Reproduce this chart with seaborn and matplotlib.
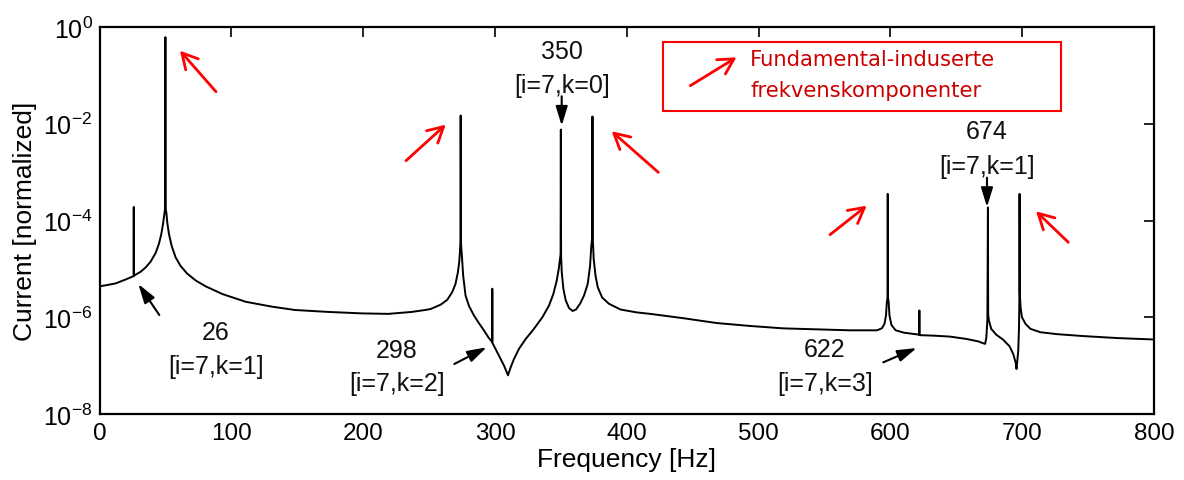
import matplotlib
matplotlib.use("Agg")
import matplotlib.pyplot as plt
import matplotlib.ticker as mticker
from matplotlib.patches import Rectangle
import numpy as np
import pandas as pd
import seaborn as sns

# ---------------- data ----------------
# frequency [Hz] and decade exponent of the normalized current (value = 10**exp)
freq_hz = [0, 4.7, 12.3, 19.8, 25.9, 26.0, 26.1, 31.2, 35.0, 38.8, 42.6, 45.1, 46.9,
           48.2, 49.2, 49.7, 50.0, 50.3, 50.7, 51.4, 52.7, 54.7, 57.7, 61.5, 66.6,
           73.0, 80.5, 93.2, 110.9, 130.6, 148.3, 173.6, 198.9, 219.1, 236.9, 247.0,
           251.2, 258.8, 263.8, 267.6, 270.1, 271.9, 272.9, 273.5, 273.8, 274.0,
           274.3, 274.9, 275.9, 277.7, 280.2, 284.0, 287.8, 291.6, 295.4, 297.9,
           298.0, 298.1, 299.8, 303.1, 306.9, 309.9, 312.0, 314.5, 318.3, 323.3,
           329.6, 336.0, 341.0, 344.3, 346.9, 348.4, 349.4, 349.8, 350.0, 350.2,
           350.7, 351.9, 353.7, 356.2, 359.0, 361.5, 364.6, 367.6, 370.4, 372.2,
           373.1, 373.7, 374.0, 374.3, 374.9, 376.3, 378.0, 381.3, 386.4, 395.2,
           407.6, 417.7, 443.0, 468.3, 493.5, 518.8, 544.2, 569.4, 589.7, 593.5,
           595.5, 596.7, 597.3, 597.8, 598.0, 598.2, 598.7, 599.3, 600.8, 604.0,
           610.4, 621.9, 622.0, 622.1, 632.6, 645.3, 658.0, 666.8, 670.6, 671.9,
           672.8, 673.6, 674.0, 674.2, 674.8, 676.5, 680.3, 685.4, 690.4, 693.2,
           695.0, 695.7, 697.0, 697.6, 697.85, 698.0, 698.2, 698.8, 699.8, 702.6,
           706.3, 713.9, 726.6, 746.8, 772.1, 789.8, 800.0]
current_exp = [-5.36, -5.34, -5.30, -5.22, -5.15, -3.72, -5.14, -5.06, -4.97, -4.85,
               -4.67, -4.48, -4.28, -4.07, -3.86, -3.76, -0.21, -3.78, -3.83, -4.04,
               -4.28, -4.52, -4.76, -4.94, -5.10,
               -5.24, -5.36, -5.52, -5.68, -5.78, -5.85, -5.89, -5.92, -5.93, -5.89,
               -5.85,
               -5.83, -5.74, -5.64, -5.48, -5.31, -5.07, -4.86, -4.62, -4.45, -1.83,
               -4.50, -4.72, -5.14, -5.55, -5.76, -5.96, -6.12, -6.27, -6.43, -6.51,
               -5.41, -6.53, -6.62, -6.79, -7.00, -7.20, -7.03, -6.86, -6.65, -6.45,
               -6.24, -6.00, -5.76, -5.52, -5.24, -5.00, -4.79, -4.70, -2.12, -4.75,
               -5.07, -5.41, -5.65, -5.81, -5.87, -5.84, -5.72, -5.55, -5.31, -4.93,
               -4.52, -4.38, -1.85, -4.40, -4.79, -5.14, -5.38, -5.59, -5.72, -5.84,
               -5.90, -5.93, -6.02, -6.12, -6.18, -6.23, -6.25, -6.27, -6.27, -6.23,
               -6.14, -5.96, -5.69, -5.60, -3.45, -5.60, -5.69, -5.96, -6.16, -6.27,
               -6.32, -6.36, -5.86, -6.37, -6.38, -6.40, -6.45, -6.50, -6.54, -6.55,
               -6.42, -6.05, -3.73, -5.95, -6.07, -6.24, -6.36, -6.46, -6.60, -6.76,
               -6.93, -7.07, -6.70, -6.20, -5.60, -3.45, -5.50, -5.80, -6.00, -6.14,
               -6.24, -6.31, -6.35, -6.39, -6.43, -6.45, -6.46]

x_ticks = [0, 100, 200, 300, 400, 500, 600, 700, 800]
y_ticks = [1e-8, 1e-6, 1e-4, 1e-2, 1e0]

labels_black = [("26", "[i=7,k=1]"), ("298", "[i=7,k=2]"), ("350", "[i=7,k=0]"),
                ("622", "[i=7,k=3]"), ("674", "[i=7,k=1]")]
legend_lines = ["Fundamental-induserte", "frekvenskomponenter"]

# ---------------- style ----------------
sns.set_style("white")
plt.rcParams["font.family"] = ["Liberation Sans", "DejaVu Sans"]
plt.rcParams["mathtext.fontset"] = "custom"
plt.rcParams["mathtext.rm"] = "Liberation Sans"
plt.rcParams["mathtext.it"] = "Liberation Sans:italic"
for k in ["text.color", "axes.labelcolor", "xtick.color", "ytick.color"]:
    plt.rcParams[k] = "black"

W, H = 1184, 481
fig = plt.figure(figsize=(W / 100, H / 100), dpi=100)
L, R, T, B = 99.5, 1154, 28, 415
ax = fig.add_axes([L / W, 1 - B / H, (R - L) / W, (B - T) / H])

df = pd.DataFrame({"Frequency": freq_hz,
                   "Current": np.power(10.0, np.array(current_exp))})
sns.lineplot(data=df, x="Frequency", y="Current", ax=ax, color="black",
             linewidth=1.4, estimator=None, sort=False)

ax.set_yscale("log")
ax.set_xlim(0, 800)
ax.set_ylim(1e-8, 1)
ax.set_xticks(x_ticks)
ax.set_yticks(y_ticks)
ax.yaxis.set_minor_locator(mticker.NullLocator())
ax.xaxis.set_minor_locator(mticker.NullLocator())
ax.tick_params(axis="both", direction="in", length=7, width=1.2,
               top=True, right=True, color="black", labelcolor="black")
ax.tick_params(axis="x", labelsize=17.5, pad=6)
ax.tick_params(axis="y", labelsize=18, pad=5)
for s in ax.spines.values():
    s.set_linewidth(1.6)
    s.set_color("black")
ax.set_xlabel("Frequency [Hz]", fontsize=19, labelpad=2, color="black")
ax.set_ylabel("Current [normalized]", fontsize=19, labelpad=4, color="black")


def P(x, y):
    return ((x - L) / (R - L), 1 - (y - T) / (B - T))


# black annotation labels: (number pos, bracket pos, arrow tail, arrow head)
geo = [((216, 333), (216, 367), (159.3, 316), (138.3, 285)),
       ((396.7, 351), (396.7, 384), (454.3, 365), (486.7, 348.3)),
       ((561.7, 52), (561.7, 86), (561.7, 97.3), (561.7, 126.7)),
       ((825, 350), (825, 384), (883.3, 363.3), (916.7, 349)),
       ((987, 132), (987, 166.6), (987, 178.7), (987, 208))]
for (num, br), (p1, p2, tail, head) in zip(labels_black, geo):
    ax.text(*P(*p1), num, transform=ax.transAxes, ha="center", va="center",
            fontsize=18, color="#111111")
    ax.text(*P(*p2), br, transform=ax.transAxes, ha="center", va="center",
            fontsize=18, color="#111111")
    ax.annotate("", xy=P(*head), xytext=P(*tail), xycoords="axes fraction",
                textcoords="axes fraction",
                arrowprops=dict(arrowstyle="-|>,head_length=0.65,head_width=0.2",
                                color="black", lw=1.5, mutation_scale=18,
                                shrinkA=0, shrinkB=0))

# red arrows pointing to fundamental-induced components
red_arrows = [((216, 92.7), (180, 51.7)), ((406, 161.7), (445.7, 125.7)),
              ((658.3, 173.3), (611.7, 132.3)), ((830, 235.7), (866.7, 206.7)),
              ((1068.3, 243.3), (1036, 212.3)), ((690.3, 86.7), (736.5, 58.3))]
for tail, head in red_arrows:
    ax.annotate("", xy=P(*head), xytext=P(*tail), xycoords="axes fraction",
                textcoords="axes fraction", annotation_clip=False,
                arrowprops=dict(arrowstyle="->,head_length=0.55,head_width=0.3",
                                color="#ff0000", lw=2, mutation_scale=20,
                                shrinkA=0, shrinkB=0))

# legend box
x0, y0 = P(662.6, 111.7)
x1, y1 = P(1060.9, 43.4)
ax.add_patch(Rectangle((x0, y0), x1 - x0, y1 - y0, transform=ax.transAxes,
                       fill=False, edgecolor="#ff0000", lw=1.5, clip_on=False))
ax.text(*P(750.3, 60), legend_lines[0], transform=ax.transAxes, ha="left",
        va="center", fontsize=15.2, color="#cc0000", family=["DejaVu Sans"])
ax.text(*P(750.3, 91), legend_lines[1], transform=ax.transAxes, ha="left",
        va="center", fontsize=15.2, color="#cc0000", family=["DejaVu Sans"])

fig.savefig("out.png", dpi=100)
